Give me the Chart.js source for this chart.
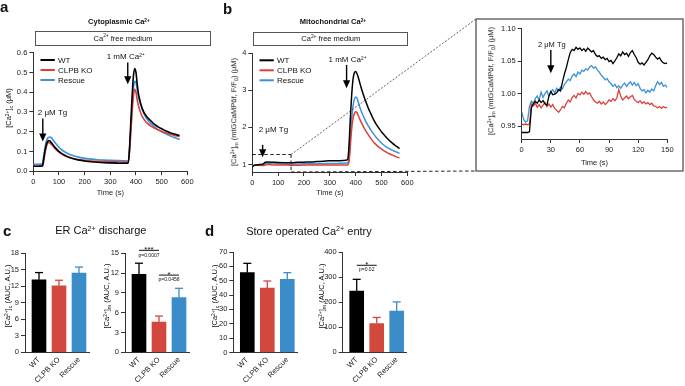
<!DOCTYPE html>
<html><head><meta charset="utf-8">
<script src="https://cdn.jsdelivr.net/npm/chart.js@4"></script>
<style>
body{margin:0;background:#fff;}
#wrap{position:relative;width:685px;height:386px;overflow:hidden;font-family:"Liberation Sans",Arial,sans-serif;color:#111;}
canvas{position:absolute;left:0;top:0;width:685px;height:386px;}
.t{position:absolute;white-space:nowrap;line-height:1;}
.c{position:absolute;white-space:nowrap;line-height:1;transform:translate(-50%,-50%);}
.yt{position:absolute;white-space:nowrap;line-height:1;font-size:7.5px;transform:translate(-50%,-50%) rotate(-90deg);}
.box{position:absolute;box-sizing:border-box;border:1px solid #555;display:flex;align-items:center;justify-content:center;font-size:7.5px;line-height:1;}
sup{font-size:0.65em;position:relative;top:-0.45em;vertical-align:baseline;line-height:0;}
sub{font-size:0.7em;position:relative;top:0.3em;vertical-align:baseline;line-height:0;}
</style></head>
<body>
<div id="wrap">
<canvas id="cA" width="685" height="386"></canvas>
<canvas id="cB" width="685" height="386"></canvas>
<canvas id="cI" width="685" height="386"></canvas>
<canvas id="cC1" width="685" height="386"></canvas>
<canvas id="cC2" width="685" height="386"></canvas>
<canvas id="cD1" width="685" height="386"></canvas>
<canvas id="cD2" width="685" height="386"></canvas>

<div class="t" style="left:0;top:-1px;font-weight:bold;font-size:15px;">a</div>
<div class="t" style="left:223px;top:0.5px;font-weight:bold;font-size:15px;">b</div>
<div class="t" style="left:3px;top:222.5px;font-weight:bold;font-size:15px;">c</div>
<div class="t" style="left:205px;top:222.5px;font-weight:bold;font-size:15px;">d</div>

<div class="c" style="left:119px;top:22.3px;font-weight:bold;font-size:7.5px;">Cytoplasmic Ca<sup>2+</sup></div>
<div class="c" style="left:333px;top:22.3px;font-weight:bold;font-size:7.5px;">Mitochondrial Ca<sup>2+</sup></div>
<div class="box" style="left:35px;top:31px;width:176px;height:14.7px;">Ca<sup>2+</sup>&nbsp;free medium</div>
<div class="box" style="left:253.3px;top:31.7px;width:155px;height:14px;">Ca<sup>2+</sup>&nbsp;free medium</div>
<div class="c" style="left:100.8px;top:230px;font-size:11px;">ER Ca<sup>2+</sup> discharge</div>
<div class="c" style="left:309px;top:230.7px;font-size:11px;">Store operated Ca<sup>2+</sup> entry</div>

<div class="yt" style="left:9px;top:108px;">[Ca<sup>2+</sup>]<sub>c</sub> (μM)</div>
<div class="yt" style="left:234px;top:112px;">[Ca<sup>2+</sup>]<sub>m</sub> (mtGCaMP6f, F/F<sub>0</sub>) (μM)</div>
<div class="yt" style="left:491px;top:81px;">[Ca<sup>2+</sup>]<sub>m</sub> (mtGCaMP6f, F/F<sub>0</sub>) (μM)</div>
<div class="yt" style="left:8px;top:296px;">[Ca<sup>2+</sup>]<sub>c</sub> (AUC, A.U.)</div>
<div class="yt" style="left:107px;top:296px;">[Ca<sup>2+</sup>]<sub>m</sub> (AUC, A.U.)</div>
<div class="yt" style="left:215px;top:296px;">[Ca<sup>2+</sup>]<sub>c</sub> (AUC, A.U.)</div>
<div class="yt" style="left:322px;top:296px;">[Ca<sup>2+</sup>]<sub>m</sub> (AUC, A.U.)</div>
</div>
<script>
// ---------- DATA ----------
const seriesNames = ['WT', 'CLPB KO', 'Rescue'];
// Panel a: cytoplasmic Ca2+
const timeA = [0,10,20,30,36,40,45,50,55,60,65,70,75,80,90,100,110,120,140,160,180,200,225,250,275,300,325,350,365,370,375,380,385,390,395,400,405,410,420,430,440,450,460,470,480,490,500,510,520,530,540,550,560,570];
const wtA = [0.025,0.025,0.025,0.026,0.028,0.06,0.1,0.13,0.148,0.155,0.152,0.145,0.137,0.128,0.113,0.1,0.09,0.082,0.07,0.062,0.056,0.052,0.048,0.045,0.043,0.042,0.041,0.04,0.04,0.04,0.12,0.25,0.38,0.48,0.52,0.5,0.44,0.39,0.335,0.3,0.28,0.265,0.252,0.24,0.23,0.222,0.215,0.208,0.202,0.197,0.192,0.188,0.184,0.181];
const koA = [0.025,0.025,0.025,0.025,0.026,0.045,0.085,0.12,0.138,0.145,0.143,0.137,0.13,0.122,0.108,0.096,0.088,0.08,0.07,0.063,0.058,0.055,0.052,0.05,0.049,0.048,0.047,0.046,0.046,0.046,0.1,0.2,0.3,0.38,0.415,0.4,0.36,0.33,0.29,0.265,0.248,0.236,0.227,0.22,0.213,0.207,0.202,0.197,0.193,0.189,0.185,0.181,0.178,0.175];
const rescueA = [0.035,0.035,0.035,0.036,0.038,0.07,0.115,0.148,0.165,0.171,0.173,0.17,0.162,0.153,0.136,0.121,0.109,0.1,0.086,0.077,0.07,0.065,0.061,0.058,0.056,0.055,0.054,0.053,0.052,0.052,0.11,0.22,0.33,0.42,0.455,0.45,0.41,0.375,0.33,0.295,0.27,0.252,0.238,0.227,0.217,0.208,0.2,0.193,0.187,0.181,0.175,0.17,0.165,0.16];
const xTicksA = [0,100,200,300,400,500,600];
const yTicksA = [0,0.1,0.2,0.3,0.4,0.5,0.6];
// Panel b: mitochondrial Ca2+
const timeB = [0,10,20,30,40,50,60,80,100,125,150,175,200,225,250,275,300,325,350,365,370,375,380,385,390,395,400,405,410,420,430,440,450,460,470,480,490,500,510,520,530,540,550,560,570];
const wtB = [0.94,0.985,0.988,1.0,1.005,1.06,1.068,1.063,1.055,1.05,1.048,1.06,1.065,1.07,1.08,1.09,1.1,1.1,1.11,1.12,1.15,1.6,2.3,2.9,3.3,3.47,3.5,3.45,3.35,3.1,2.88,2.68,2.5,2.35,2.2,2.08,1.98,1.88,1.8,1.72,1.65,1.59,1.53,1.48,1.43];
const koB = [0.95,0.982,0.98,0.98,0.975,0.99,1.0,0.99,0.985,0.99,0.98,0.98,0.985,0.985,0.99,0.99,0.99,0.99,0.99,0.99,1.0,1.1,1.55,1.98,2.24,2.37,2.42,2.4,2.32,2.16,2.02,1.9,1.79,1.69,1.6,1.53,1.47,1.42,1.37,1.33,1.29,1.26,1.23,1.2,1.18];
const rescueB = [0.97,0.99,0.995,1.0,1.005,1.02,1.03,1.04,1.02,1.01,1.01,1.015,1.02,1.02,1.02,1.025,1.03,1.03,1.035,1.04,1.05,1.2,1.75,2.25,2.58,2.76,2.82,2.79,2.68,2.47,2.3,2.15,2.03,1.92,1.82,1.73,1.65,1.58,1.52,1.47,1.43,1.39,1.36,1.33,1.3];
const xTicksB = [0,100,200,300,400,500,600];
const yTicksB = [1,2,3,4];
// Inset: first 150 s of panel b
const timeI = [0,2,4,6,8,10,12,14,16,18,20,22,24,26,28,30,32,34,36,38,40,42,44,46,48,50,52,54,56,58,60,62,64,66,68,70,72,74,76,78,80,82,84,86,88,90,92,94,96,98,100,102,104,106,108,110,112,114,116,118,120,122,124,126,128,130,132,134,136,138,140,142,144,146,148,150];
const wtI = [0.940,0.940,0.940,0.940,0.941,0.978,0.984,0.988,0.985,0.990,0.986,0.989,0.984,0.982,0.996,1.003,0.998,0.999,1.001,1.006,1.004,1.018,1.030,1.040,1.052,1.063,1.068,1.066,1.071,1.068,1.070,1.066,1.069,1.065,1.070,1.067,1.064,1.066,1.060,1.057,1.058,1.054,1.056,1.052,1.054,1.049,1.051,1.046,1.050,1.055,1.061,1.058,1.064,1.060,1.062,1.057,1.063,1.066,1.060,1.055,1.048,1.045,1.047,1.044,1.048,1.052,1.058,1.062,1.060,1.056,1.053,1.055,1.050,1.047,1.046,1.047];
const koI = [0.953,0.952,0.953,0.952,0.953,0.984,0.981,0.985,0.979,0.983,0.978,0.982,0.986,0.980,0.984,0.979,0.983,0.977,0.974,0.971,0.975,0.980,0.978,0.985,0.990,0.987,0.994,0.997,0.993,1.000,0.998,1.002,0.999,1.003,0.999,1.001,0.995,0.990,0.987,0.985,0.988,0.984,0.987,0.983,0.986,0.990,0.988,0.992,0.989,0.993,1.006,0.996,0.990,0.993,0.996,0.992,0.995,0.997,0.991,0.988,0.986,0.989,0.985,0.987,0.984,0.986,0.983,0.985,0.981,0.980,0.978,0.980,0.977,0.980,0.978,0.979];
const rescueI = [0.972,0.960,0.956,0.958,0.980,0.988,0.985,0.992,0.996,0.990,1.002,0.994,1.000,1.004,0.996,1.002,1.006,1.001,1.008,1.004,1.010,1.007,1.014,1.018,1.022,1.020,1.027,1.030,1.026,1.033,1.030,1.036,1.034,1.038,1.036,1.041,1.043,1.039,1.041,1.036,1.033,1.028,1.025,1.021,1.023,1.018,1.015,1.011,1.014,1.009,1.012,1.008,1.013,1.016,1.011,1.015,1.018,1.013,1.017,1.012,1.015,1.008,1.004,1.006,1.001,1.005,1.002,1.007,1.004,1.012,1.018,1.014,1.017,1.011,1.013,1.009];
const xTicksI = [0,30,60,90,120,150];
const yTicksI = [0.95,1.00,1.05,1.10];
// Bars
const groups = ['WT', 'CLPB KO', 'Rescue'];
const erCyto = [13.2, 12.1, 14.4];        const erCytoErr = [14.5, 13.1, 15.5];
const erMito = [11.8, 4.6, 8.3];          const erMitoErr = [13.5, 5.5, 9.7];
const soceCyto = [55.6, 44.8, 51.0];      const soceCytoErr = [62.1, 49.8, 55.6];
const soceMito = [244, 115, 164];         const soceMitoErr = [291, 139, 201];
const yTicksC1 = [0,3,6,9,12,15,18];
const yTicksC2 = [0,3,6,9,12,15];
const yTicksD1 = [0,10,20,30,40,50,60,70];
const yTicksD2 = [0,100,200,300,400];

// ---------- STYLE / LAYOUT ----------
const W = 685, H = 386;
const FONT = '"Liberation Sans", Arial, sans-serif';
Chart.defaults.font.family = FONT;
Chart.defaults.font.size = 7.5;
Chart.defaults.color = '#222';
const lineColors = ['#000000', '#dc3f3c', '#3a92d8'];
const barColors = ['#000000', '#d2483f', '#3b8dca'];
const AX = '#333';
const insetBox = {l: 476, t: 19, r: 683, b: 171};

function frame(L, T, R, B, yw, xh) {
  return {padding: {left: L - yw, top: T, right: W - R, bottom: H - B - xh}};
}
function yScale(min, max, ticks, fmt, yw) {
  return {type: 'linear', min, max,
    afterBuildTicks: s => { s.ticks = ticks.map(v => ({value: v})); },
    afterFit: s => { s.width = yw; },
    ticks: {callback: v => fmt(v), padding: 2, autoSkip: false, color: '#222'},
    grid: {display: true, drawOnChartArea: false, drawTicks: true, tickLength: 4, color: AX, lineWidth: 1},
    border: {display: true, color: AX, width: 1}};
}
function xScale(min, max, ticks, xh, title) {
  return {type: 'linear', min, max,
    afterBuildTicks: s => { s.ticks = ticks.map(v => ({value: v})); },
    afterFit: s => { s.height = xh; },
    ticks: {callback: v => String(v), padding: 2, maxRotation: 0, autoSkip: false, color: '#222'},
    grid: {display: true, drawOnChartArea: false, drawTicks: true, tickLength: 4, color: AX, lineWidth: 1},
    border: {display: true, color: AX, width: 1},
    title: {display: true, text: title, color: '#222', padding: 0, font: {size: 7.5}}};
}
function line(ctx, x1, y1, x2, y2) { ctx.beginPath(); ctx.moveTo(x1, y1); ctx.lineTo(x2, y2); ctx.stroke(); }
function txt(ctx, s, x, y, size, align, base, bold) {
  ctx.font = (bold ? 'bold ' : '') + size + 'px ' + FONT;
  ctx.textAlign = align || 'center'; ctx.textBaseline = base || 'middle'; ctx.fillStyle = '#111';
  ctx.fillText(s, x, y);
}
function deco(id, cfg) {
  return {id, afterDraw(chart) {
    const ctx = chart.ctx, xs = chart.scales.x, ys = chart.scales.y, ca = chart.chartArea;
    ctx.save();
    if (cfg.legend) {
      chart.data.datasets.forEach((d, i) => {
        const y = ca.top + 7.3 + i * 10;
        ctx.strokeStyle = d.borderColor; ctx.lineWidth = 2;
        line(ctx, ca.left + 7.2, y, ca.left + 21.5, y);
        txt(ctx, d.label, ca.left + 24.6, y + 0.3, 8, 'left');
      });
    }
    (cfg.arrows || []).forEach(a => {
      const x = xs.getPixelForValue(a.x), y1 = ys.getPixelForValue(a.y1), y2 = ys.getPixelForValue(a.y2);
      ctx.strokeStyle = '#000'; ctx.fillStyle = '#000'; ctx.lineWidth = 1.4;
      line(ctx, x, y1, x, y2 - 6);
      ctx.beginPath(); ctx.moveTo(x - 3.6, y2 - 8); ctx.lineTo(x + 3.6, y2 - 8); ctx.lineTo(x, y2); ctx.closePath(); ctx.fill();
      txt(ctx, a.text, x + a.dx, ys.getPixelForValue(a.ty), a.size || 8, a.align);
    });
    if (cfg.zoom) {
      const zx = xs.getPixelForValue(cfg.zoom.x), zy = ys.getPixelForValue(cfg.zoom.y), bot = ca.bottom;
      ctx.strokeStyle = '#222'; ctx.lineWidth = 1; ctx.setLineDash([3.5, 2.5]);
      line(ctx, ca.left, zy, zx, zy); line(ctx, zx, zy, zx, bot);
      line(ctx, zx, bot, insetBox.l, insetBox.b);
      ctx.lineWidth = 0.7; ctx.setLineDash([2, 1.6]);
      line(ctx, zx, zy, insetBox.l, insetBox.t);
      ctx.setLineDash([]); ctx.lineWidth = 1.3; ctx.strokeStyle = '#555';
      ctx.strokeRect(insetBox.l, insetBox.t, insetBox.r - insetBox.l, insetBox.b - insetBox.t);
    }
    if (cfg.err) {
      cfg.err.tops.forEach((top, i) => {
        const x = xs.getPixelForValue(i), y0 = ys.getPixelForValue(cfg.err.vals[i]), y1 = ys.getPixelForValue(top);
        ctx.strokeStyle = barColors[i]; ctx.lineWidth = 1.3;
        line(ctx, x, y0, x, y1); line(ctx, x - 4, y1, x + 4, y1);
      });
    }
    (cfg.sig || []).forEach(s => {
      const x1 = xs.getPixelForValue(s.x1), x2 = xs.getPixelForValue(s.x2), y = ys.getPixelForValue(s.y);
      ctx.strokeStyle = '#111'; ctx.lineWidth = 1;
      line(ctx, x1, y, x2, y);
      txt(ctx, s.star, (x1 + x2) / 2, y + 1.5, 8, 'center', 'alphabetic');
      txt(ctx, s.p, (x1 + x2) / 2, y + 4.8, 5, 'center', 'middle');
    });
    ctx.restore();
  }};
}
function lineSets(times, arrs, width, smooth) {
  return arrs.map((a, i) => ({label: seriesNames[i], data: times.map((t, j) => ({x: t, y: a[j]})),
    borderColor: lineColors[i], borderWidth: width, pointRadius: 0, fill: false,
    tension: 0, cubicInterpolationMode: smooth ? 'monotone' : 'default'}));
}
const base = {responsive: false, animation: false, events: [], devicePixelRatio: 1,
  plugins: {legend: {display: false}, tooltip: {enabled: false}}};

// Panel a
new Chart(document.getElementById('cA'), {
  type: 'line',
  data: {datasets: lineSets(timeA, [wtA, koA, rescueA], 1.6, true)},
  options: Object.assign({}, base, {
    layout: frame(33.3, 52.7, 187.3, 171.2, 20, 26.6),
    scales: {x: xScale(0, 600, xTicksA, 26.6, 'Time (s)'), y: yScale(0, 0.6, yTicksA, v => v.toFixed(1), 20)}}),
  plugins: [deco('decoA', {legend: true, arrows: [
    {x: 37, y1: 0.267, y2: 0.15, text: '2 μM Tg', ty: 0.296, align: 'left', dx: -5},
    {x: 368, y1: 0.551, y2: 0.44, text: '1 mM Ca²⁺', ty: 0.577, align: 'center', dx: -2}]})]
});
// Panel b
new Chart(document.getElementById('cB'), {
  type: 'line',
  data: {datasets: lineSets(timeB, [wtB, koB, rescueB], 1.5, true)},
  options: Object.assign({}, base, {
    layout: frame(252.3, 53, 407.3, 172, 16, 25.5),
    scales: {x: xScale(0, 600, xTicksB, 25.5, 'Time (s)'), y: yScale(0.8, 4, yTicksB, v => String(v), 16)}}),
  plugins: [deco('decoB', {legend: true, zoom: {x: 150, y: 1.27}, arrows: [
    {x: 40, y1: 1.53, y2: 1.2, text: '2 μM Tg', ty: 1.93, align: 'left', dx: -4},
    {x: 365, y1: 3.68, y2: 3.05, text: '1 mM Ca²⁺', ty: 3.81, align: 'center', dx: 1}]})]
});
// Inset
new Chart(document.getElementById('cI'), {
  type: 'line',
  data: {datasets: lineSets(timeI, [wtI, koI, rescueI], 1.3, false)},
  options: Object.assign({}, base, {
    layout: frame(521.7, 28.5, 667.3, 139, 24, 28.5),
    scales: {x: xScale(0, 150, xTicksI, 28.5, 'Time (s)'), y: yScale(0.93, 1.10, yTicksI, v => v.toFixed(2), 24)}}),
  plugins: [deco('decoI', {arrows: [
    {x: 30, y1: 1.067, y2: 1.031, text: '2 μM Tg', ty: 1.075, align: 'center', dx: 1, size: 7.5}]})]
});
// Bars
function barChart(id, L, T, B, vals, tops, yTicks, yMax, sig) {
  const R = L + 64;
  const xh = H - B - 1;
  return new Chart(document.getElementById(id), {
    type: 'bar',
    data: {datasets: [{data: vals.map((v, i) => ({x: i, y: v})), backgroundColor: barColors, borderWidth: 0, barThickness: 14}]},
    options: Object.assign({}, base, {
      layout: frame(L, T, R, B, 22, xh),
      scales: {
        x: {type: 'linear', min: -0.7, max: 2.5, offset: false,
          afterBuildTicks: s => { s.ticks = groups.map((g, i) => ({value: i})); },
          afterFit: s => { s.height = xh; },
          ticks: {callback: v => groups[v], minRotation: 45, maxRotation: 45, padding: -5, autoSkip: false, color: '#222'},
          grid: {display: false, offset: false}, border: {display: true, color: AX, width: 1}},
        y: yScale(0, yMax, yTicks, v => String(v), 22)}}),
    plugins: [deco('deco' + id, {err: {vals, tops}, sig})]
  });
}
barChart('cC1', 25, 253.3, 352.4, erCyto, erCytoErr, yTicksC1, 18, []);
barChart('cC2', 125, 253.3, 352.4, erMito, erMitoErr, yTicksC2, 15, [
  {x1: 0, x2: 1, y: 15.45, star: '***', p: 'p=0.0007'},
  {x1: 1, x2: 2, y: 11.7, star: '*', p: 'p=0.0458'}]);
barChart('cD1', 233.3, 252, 352.5, soceCyto, soceCytoErr, yTicksD1, 70, []);
barChart('cD2', 342.7, 252, 352.3, soceMito, soceMitoErr, yTicksD2, 400, [
  {x1: 0, x2: 1, y: 347, star: '*', p: 'p=0.02'}]);
</script>
</body></html>
